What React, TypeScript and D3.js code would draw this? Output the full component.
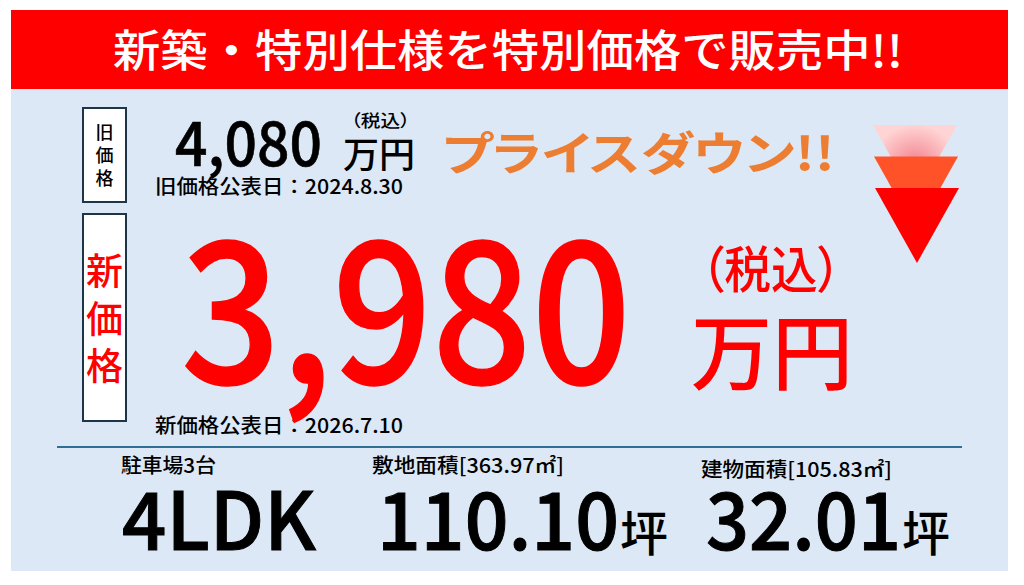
import React, { useEffect, useRef } from "react";
import * as d3 from "d3";

// ---- data ----
const bannerTitle = "新築・特別仕様を特別価格で販売中!!";
const priceLabels = ["旧価格", "新価格"];
const prices = [4080, 3980];
const priceDates = ["2024.8.30", "2026.7.10"];
const taxNote = "（税込）";
const priceUnit = "万円";
const priceDownText = "プライスダウン!!";
const specLabels = ["駐車場3台", "敷地面積[363.97㎡]", "建物面積[105.83㎡]"];
const specValues = ["4LDK", "110.10", "32.01"];
const specUnits = ["", "坪", "坪"];
const arrowColors = ["url(#pinkGlow)", "#ff5228", "#ff0000"];

const FONT = "'Noto Sans CJK JP', 'Noto Sans', sans-serif";
const PALT = '"palt"';

const App: React.FC = () => {
    const svgRef = useRef<SVGSVGElement | null>(null);

    useEffect(() => {
        const width = 1024;
        const height = 585;

        d3.select(svgRef.current).selectAll("*").remove();

        const svg = d3
            .select(svgRef.current)
            .attr("width", width)
            .attr("height", height)
            .style("font-family", FONT);

        // Gradient for the faint top arrow
        const defs = svg.append("defs");
        const grad = defs
            .append("radialGradient")
            .attr("id", "pinkGlow")
            .attr("cx", "50%")
            .attr("cy", "50%")
            .attr("r", "50%");
        grad.append("stop").attr("offset", "0%").attr("stop-color", "#f2848f");
        grad.append("stop").attr("offset", "100%").attr("stop-color", "#ffd4d4");

        // Background
        svg.append("rect").attr("width", width).attr("height", height).attr("fill", "#ffffff");
        svg.append("rect")
            .attr("x", 11).attr("y", 89)
            .attr("width", 997).attr("height", 482)
            .attr("fill", "#dce8f5");

        // Banner
        svg.append("rect")
            .attr("x", 11).attr("y", 10)
            .attr("width", 997).attr("height", 79)
            .attr("fill", "#ff0000");
        svg.append("text")
            .attr("x", 113).attr("y", 48)
            .attr("dominant-baseline", "central")
            .attr("textLength", 790)
            .attr("lengthAdjust", "spacingAndGlyphs")
            .attr("fill", "#ffffff")
            .style("font-size", "44px")
            .style("font-weight", 500)
            .text(bannerTitle);

        // Vertical label boxes
        const boxes = [
            { x: 83, y: 108, w: 43, h: 94, size: 18, color: "#000000", top: 130.5, step: 23 },
            { x: 83, y: 214, w: 43, h: 207, size: 37, color: "#ff0000", top: 269, step: 47.5 },
        ];
        boxes.forEach((b, i) => {
            svg.append("rect")
                .attr("x", b.x).attr("y", b.y)
                .attr("width", b.w).attr("height", b.h)
                .attr("fill", "#ffffff")
                .attr("stroke", "#1d3547")
                .attr("stroke-width", 2);
            svg.append("g")
                .selectAll("text")
                .data(Array.from(priceLabels[i]))
                .enter()
                .append("text")
                .attr("x", b.x + b.w / 2)
                .attr("y", (_d, j) => b.top + j * b.step)
                .attr("text-anchor", "middle")
                .attr("dominant-baseline", "central")
                .attr("fill", b.color)
                .style("font-size", `${b.size}px`)
                .style("font-weight", 500)
                .text((d) => d);
        });

        const fmt = d3.format(",");

        // Old price
        svg.append("text")
            .attr("x", 175).attr("y", 166)
            .attr("textLength", 147)
            .attr("lengthAdjust", "spacingAndGlyphs")
            .attr("fill", "#000000")
            .attr("stroke", "#000000")
            .attr("stroke-width", 0.6)
            .style("font-size", "62px")
            .style("font-weight", 500)
            .text(fmt(prices[0]));
        svg.append("text")
            .attr("x", 343).attr("y", 151.5)
            .attr("dominant-baseline", "central")
            .attr("textLength", 72)
            .attr("lengthAdjust", "spacingAndGlyphs")
            .style("font-size", "36px")
            .style("font-weight", 500)
            .text(priceUnit);
        svg.append("text")
            .attr("x", 351).attr("y", 119)
            .attr("dominant-baseline", "central")
            .attr("textLength", 59)
            .attr("lengthAdjust", "spacingAndGlyphs")
            .style("font-feature-settings", PALT)
            .style("font-size", "17px")
            .style("font-weight", 500)
            .text(taxNote);

        // Publish dates
        const dateRows = [
            { y: 194, prefix: "旧価格公表日：" },
            { y: 433, prefix: "新価格公表日：" },
        ];
        dateRows.forEach((r, i) => {
            svg.append("text")
                .attr("x", 155).attr("y", r.y)
                .attr("textLength", 248)
                .attr("lengthAdjust", "spacingAndGlyphs")
                .style("font-size", "20px")
                .style("font-weight", 500)
                .text(r.prefix + priceDates[i]);
        });

        // Price down
        svg.append("text")
            .attr("x", 442).attr("y", 150)
            .attr("dominant-baseline", "central")
            .attr("textLength", 393)
            .attr("lengthAdjust", "spacingAndGlyphs")
            .attr("fill", "#ed7d31")
            .style("font-feature-settings", PALT)
            .style("font-size", "46px")
            .style("font-weight", 700)
            .text(priceDownText);

        // Arrows
        const arrowTop = d3.scaleLinear().domain([0, arrowColors.length - 1]).range([125, 188]);
        const arrowLeft = d3.scaleLinear().domain([0, arrowColors.length - 1]).range([873, 875]);
        const arrowW = 84;
        const arrowH = 75;
        arrowColors.forEach((c, i) => {
            const p = d3.path();
            const x0 = arrowLeft(i);
            const y0 = arrowTop(i);
            p.moveTo(x0, y0);
            p.lineTo(x0 + arrowW, y0);
            p.lineTo(x0 + arrowW / 2, y0 + arrowH);
            p.closePath();
            svg.append("path").attr("d", p.toString()).attr("fill", c);
        });

        // New price
        svg.append("text")
            .attr("x", 181).attr("y", 383)
            .attr("textLength", 450)
            .attr("lengthAdjust", "spacingAndGlyphs")
            .attr("fill", "#ff0000")
            .attr("stroke", "#ff0000")
            .attr("stroke-width", 1.5)
            .style("font-size", "196px")
            .style("font-weight", 500)
            .text(fmt(prices[1]));
        svg.append("text")
            .attr("x", 701).attr("y", 266)
            .attr("dominant-baseline", "central")
            .attr("textLength", 140)
            .attr("lengthAdjust", "spacingAndGlyphs")
            .attr("fill", "#ff0000")
            .style("font-feature-settings", PALT)
            .style("font-size", "50px")
            .style("font-weight", 500)
            .text(taxNote);
        svg.append("text")
            .attr("x", 691).attr("y", 347.5)
            .attr("dominant-baseline", "central")
            .attr("textLength", 162)
            .attr("lengthAdjust", "spacingAndGlyphs")
            .attr("fill", "#ff0000")
            .style("font-size", "82px")
            .style("font-weight", 500)
            .text(priceUnit);

        // Divider
        svg.append("line")
            .attr("x1", 57).attr("x2", 962)
            .attr("y1", 447).attr("y2", 447)
            .attr("stroke", "#2f6f93")
            .attr("stroke-width", 2);

        // Spec columns
        const colX = d3.scaleOrdinal<string, number>().domain(specValues).range([121, 372, 701]);
        const labelY = d3.scaleOrdinal<string, number>().domain(specValues).range([473, 473, 477]);
        const labelW = d3.scaleOrdinal<string, number>().domain(specValues).range([95, 192, 191]);
        const valueW = d3.scaleOrdinal<string, number>().domain(specValues).range([194, 242, 195]);

        const cols = svg
            .selectAll(".spec")
            .data(specValues)
            .enter()
            .append("g")
            .attr("class", "spec");

        cols.append("text")
            .attr("x", (d) => colX(d))
            .attr("y", (d) => labelY(d))
            .attr("textLength", (d) => labelW(d))
            .attr("lengthAdjust", "spacingAndGlyphs")
            .style("font-size", "20px")
            .style("font-weight", 500)
            .text((_d, i) => specLabels[i]);

        cols.append("text")
            .attr("x", (d, i) => colX(d) + (i === 0 ? 1 : 5))
            .attr("y", 550)
            .attr("textLength", (d) => valueW(d))
            .attr("lengthAdjust", "spacingAndGlyphs")
            .attr("fill", "#000000")
            .attr("stroke", "#000000")
            .attr("stroke-width", 1)
            .style("font-size", "80px")
            .style("font-weight", 500)
            .text((d) => d);

        cols.append("text")
            .attr("x", (d, i) => colX(d) + (i === 0 ? 0 : 4) + valueW(d) + 2)
            .attr("y", 530)
            .attr("dominant-baseline", "central")
            .style("font-size", "48px")
            .style("font-weight", 500)
            .text((_d, i) => specUnits[i]);
    }, []);

    return <svg ref={svgRef} style={{ position: "absolute", left: 0, top: 0 }} />;
};

export default App;
